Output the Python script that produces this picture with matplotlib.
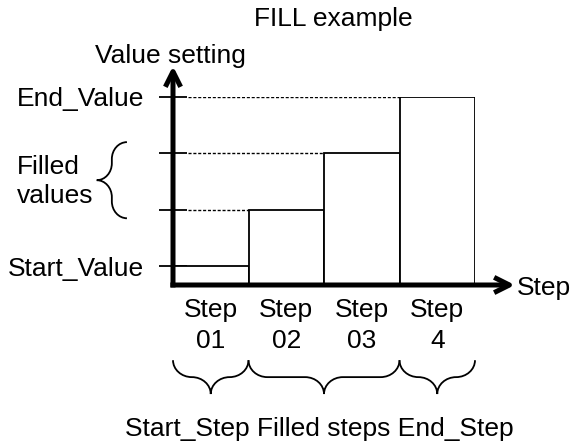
import numpy as np
import matplotlib
matplotlib.use("Agg")
import matplotlib.pyplot as plt
from matplotlib.path import Path
from matplotlib.patches import PathPatch

# ---- data ----
step_labels = ["Step\n01", "Step\n02", "Step\n03", "Step\n4"]
values = [1, 4, 7, 10]
value_tick_labels = ["Start_Value", "", "", "End_Value"]
group_labels = ["Start_Step", "Filled steps", "End_Step"]
group_spans = [(0, 1), (1, 3), (3, 4)]
filled_value_span = (values[1], values[2])

plt.rcParams['font.family'] = ['Liberation Sans', 'DejaVu Sans']
FS = 19

fig = plt.figure(figsize=(5.78, 4.44), dpi=100)
ax = fig.add_axes([173/578, (444-285)/444, 302/578, 188/444])
ax.set_xlim(0, len(values))
ax.set_ylim(0, max(values))
for s in ax.spines.values():
    s.set_visible(False)

idx = np.arange(len(values))
# dotted guide lines
for i in idx[1:]:
    ax.hlines(values[i], 0.2, i, colors='black', lw=1.0,
              linestyles=(0, (2.2, 1.3)), zorder=1)
# bars
ax.bar(idx, values, width=1.0, align='edge', facecolor='white',
       edgecolor='black', lw=1.3, zorder=2)

# ticks
ax.set_yticks(values)
ax.set_yticklabels(value_tick_labels, fontsize=FS)
ax.tick_params(axis='y', direction='inout', length=20, width=1.3, pad=11)
ax.set_xticks(idx + 0.5)
ax.set_xticklabels(step_labels, fontsize=FS, linespacing=1.4)
ax.tick_params(axis='x', length=0, pad=9)

# axis arrows
arrow_kw = dict(arrowstyle='->,head_length=1.1,head_width=0.55', lw=3.6,
                color='black', shrinkA=0, shrinkB=0, capstyle='butt')
ax.annotate('', xy=(4.53, -0.0), xytext=(-0.035, 0.0),
            arrowprops=arrow_kw, annotation_clip=False, zorder=5)
ax.annotate('', xy=(0, 11.65), xytext=(0, -0.13),
            arrowprops=arrow_kw, annotation_clip=False, zorder=5)

# texts
ax.text(4.56, 0, "Step", fontsize=FS, ha='left', va='center_baseline', clip_on=False)
ax.text(-0.04, 12.2, "Value setting", fontsize=FS, ha='center', va='center', clip_on=False)
ax.text(2.12, 14.15, "FILL example", fontsize=FS, ha='center', va='center', clip_on=False)
ax.text(-2.066, sum(filled_value_span)/2, "Filled\nvalues", fontsize=FS, ha='left',
        va='center', linespacing=1.3, clip_on=False)
ax.text(1.94, -8.05, " ".join(group_labels), fontsize=FS, ha='center',
        va='baseline', clip_on=False)

K = 0.552


def brace_h(x0, x1, ytop, depth, rx):
    dy = depth / 2
    ym = ytop - dy
    yb = ytop - depth
    xc = (x0 + x1) / 2
    verts = [(x0, ytop), (x0, ytop - K*dy), (x0 + rx - K*rx, ym), (x0 + rx, ym),
             (xc - rx, ym),
             (xc - rx + K*rx, ym), (xc, yb + K*dy), (xc, yb),
             (xc, yb + K*dy), (xc + rx - K*rx, ym), (xc + rx, ym),
             (x1 - rx, ym),
             (x1 - rx + K*rx, ym), (x1, ytop - K*dy), (x1, ytop)]
    codes = [Path.MOVETO] + [Path.CURVE4]*3 + [Path.LINETO] + [Path.CURVE4]*6 + \
            [Path.LINETO] + [Path.CURVE4]*3
    ax.add_patch(PathPatch(Path(verts, codes), fill=False, lw=1.3, color='black',
                           clip_on=False))


def brace_v(y0, y1, xback, depth, ry):
    dx = depth / 2
    xm = xback - dx
    xt = xback - depth
    yc = (y0 + y1) / 2
    verts = [(xback, y0), (xback - K*dx, y0), (xm, y0 + ry - K*ry), (xm, y0 + ry),
             (xm, yc - ry),
             (xm, yc - ry + K*ry), (xt + K*dx, yc), (xt, yc),
             (xt + K*dx, yc), (xm, yc + ry - K*ry), (xm, yc + ry),
             (xm, y1 - ry),
             (xm, y1 - ry + K*ry), (xback - K*dx, y1), (xback, y1)]
    codes = [Path.MOVETO] + [Path.CURVE4]*3 + [Path.LINETO] + [Path.CURVE4]*6 + \
            [Path.LINETO] + [Path.CURVE4]*3
    ax.add_patch(PathPatch(Path(verts, codes), fill=False, lw=1.3, color='black',
                           clip_on=False))


for a, b in group_spans:
    brace_h(a, b, -4.0, 1.8, 0.25)

brace_v(filled_value_span[0] - 0.45, filled_value_span[1] + 0.6, -0.61, 0.4, 0.9)

fig.savefig("out.png", dpi=100)
